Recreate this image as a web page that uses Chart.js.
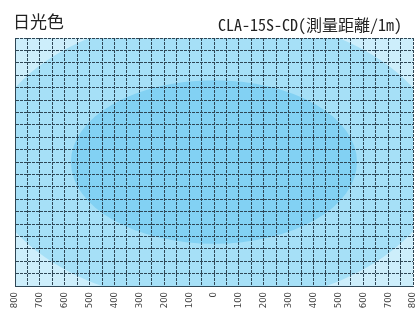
<!DOCTYPE html>
<html>
<head>
<meta charset="utf-8">
<script src="https://cdn.jsdelivr.net/npm/chart.js@4"></script>
<style>
  body { margin:0; background:#fff; }
  #wrap { position:relative; width:417px; height:309px; }
  #title { position:absolute; left:13px; top:11px; font:17px "Noto Sans CJK JP", sans-serif; color:#222; line-height:20px; }
  #model { position:absolute; right:15px; top:14px; font:16px "Noto Sans Mono CJK JP", "Noto Sans CJK JP", monospace; color:#222; line-height:20px; }
</style>
</head>
<body>
<div id="wrap">
  <canvas id="chart" width="417" height="309"></canvas>
  <div id="title">日光色</div>
  <div id="model">CLA-15S-CD(測量距離/1m)</div>
</div>
<script>
// distance from centre (mm)
const xMin = -800, xMax = 800;
const yMin = -500, yMax = 500;
const xTickLabels = ['800','700','600','500','400','300','200','100','0','100','200','300','400','500','600','700','800'];

// illuminance zones (ellipses), radius in mm
const zoneRadiusX = [920, 575];
const zoneRadiusY = [585, 330];
const zoneCenterY = [10, 0];
const zoneColors = ['#a6e0f7', '#82d1f3'];
const outerColor = '#cdeefb';

// Draw zones under the grid
const zonePlugin = {
  id: 'zones',
  beforeDraw(chart){
    const {ctx, chartArea:a, scales} = chart;
    const xs = scales.x, ys = scales.y;
    ctx.save();
    ctx.beginPath();
    ctx.rect(a.left, a.top, a.right - a.left, a.bottom - a.top);
    ctx.clip();
    ctx.fillStyle = outerColor;
    ctx.fillRect(a.left, a.top, a.right - a.left, a.bottom - a.top);
    zoneRadiusX.forEach((rx, i) => {
      const cx = xs.getPixelForValue(0);
      const cy = ys.getPixelForValue(zoneCenterY[i]);
      const px = xs.getPixelForValue(rx) - cx;
      const py = cy - ys.getPixelForValue(zoneCenterY[i] + zoneRadiusY[i]);
      ctx.beginPath();
      ctx.ellipse(cx, cy, px, py, 0, 0, Math.PI * 2);
      ctx.fillStyle = zoneColors[i];
      ctx.fill();
    });
    ctx.restore();
  }
};

const gridColor = '#2e4655';

new Chart(document.getElementById('chart'), {
  type: 'scatter',
  data: { datasets: [{ data: [], pointRadius: 0 }] },
  options: {
    responsive: false,
    animation: false,
    layout: { padding: { left: 15, right: 4, top: 38, bottom: 1 } },
    plugins: { legend: { display: false }, tooltip: { enabled: false } },
    scales: {
      x: {
        type: 'linear', min: xMin, max: xMax,
        grid: { color: gridColor, lineWidth: 1, drawTicks: false },
        border: { color: gridColor, dash: [3, 1] },
        ticks: {
          stepSize: 50, autoSkip: false, minRotation: 90, maxRotation: 90,
          padding: 6, color: '#444',
          font: { family: 'DejaVu Sans Condensed', size: 9.5 },
          callback: v => v % 100 === 0 ? xTickLabels[(v - xMin) / 100] : ''
        },
        afterFit(s){ s.paddingLeft = 0; s.paddingRight = 0; s.height = 22; }
      },
      y: {
        type: 'linear', min: yMin, max: yMax,
        grid: { color: gridColor, lineWidth: 1, drawTicks: false },
        border: { color: gridColor, dash: [3, 1] },
        ticks: { stepSize: 50, display: false }
      }
    }
  },
  plugins: [zonePlugin]
});
</script>
</body>
</html>
